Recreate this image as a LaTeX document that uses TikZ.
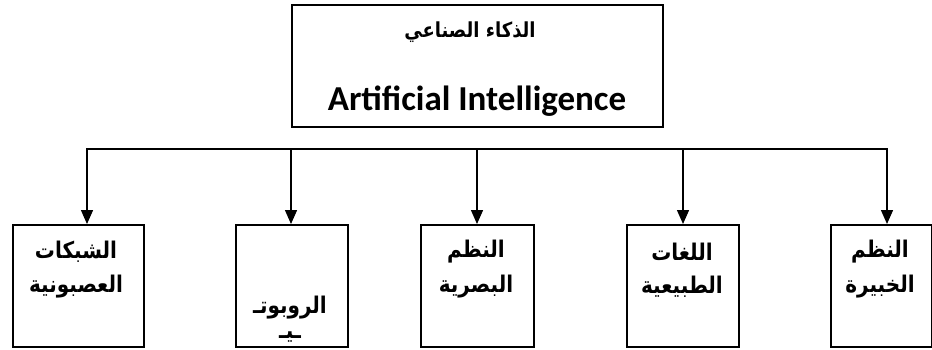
\documentclass[tikz,border=0pt]{standalone}
\usepackage{fontspec}
\setmainfont{Carlito}
\newfontfamily\arabicfont[Script=Arabic]{DejaVu Sans Bold}
\TeXXeTstate=1
\usetikzlibrary{arrows.meta}

\begin{document}
\begin{tikzpicture}[x=1pt,y=-1pt,
  box/.style={draw,line width=2pt,anchor=north west,inner sep=0pt},
  bus/.style={line width=1.4pt,line cap=rect},
  conn/.style={line width=1.4pt,-{Triangle[length=14pt,width=12pt]}},
  ar/.style={font=\arabicfont\fontsize{20}{20}\selectfont,inner sep=0pt,yscale=1.15},
  en/.style={font=\bfseries\fontsize{35}{35}\selectfont,inner sep=0pt,anchor=base},
]
\useasboundingbox[fill=white] (0,0) rectangle (932,349);

% root box
\node[box,minimum width=371pt,minimum height=122pt] (root) at (291,4) {};
\node[ar,font=\arabicfont\fontsize{18}{18}\selectfont] (rootar) at (470,32) {\beginR الذكاء الصناعي\endR};
\node[en] (rooten) at (477,110) {Artificial Intelligence};

% branch boxes
\node[box,minimum width=131pt,minimum height=122pt] (b1) at (12,224) {};
\node[box,minimum width=112pt,minimum height=122pt] (b2) at (235,224) {};
\node[box,minimum width=113pt,minimum height=122pt] (b3) at (420,224) {};
\node[box,minimum width=112pt,minimum height=122pt] (b4) at (626,224) {};
\node[box,minimum width=101pt,minimum height=122pt] (b5) at (830,224) {};

% branch labels
\node[ar] (b1a) at (76,252) {\beginR الشبكات\endR};
\node[ar] (b1b) at (76,287) {\beginR العصبونية\endR};
\node[ar] (b2a) at (290,308) {\beginR الروبوتـ\endR};
\node[ar] (b2b) at (290,337) {\beginR ـيـ\endR};
\node[ar] (b3a) at (476,252) {\beginR النظم\endR};
\node[ar] (b3b) at (476,287) {\beginR البصرية\endR};
\node[ar] (b4a) at (682,252) {\beginR اللغات\endR};
\node[ar] (b4b) at (682,287) {\beginR الطبيعية\endR};
\node[ar] (b5a) at (880,252) {\beginR النظم\endR};
\node[ar] (b5b) at (880,287) {\beginR الخبيرة\endR};

% distribution bus
\coordinate (c1) at (87,149);
\coordinate (c2) at (291,149);
\coordinate (c3) at (477,149);
\coordinate (c4) at (683,149);
\coordinate (c5) at (887,149);
\draw[bus] (c1) -- (c5);
\draw[conn] (c1) -- (c1 |- b1.north);
\draw[conn] (c2) -- (c2 |- b2.north);
\draw[conn] (c3) -- (c3 |- b3.north);
\draw[conn] (c4) -- (c4 |- b4.north);
\draw[conn] (c5) -- (c5 |- b5.north);
\end{tikzpicture}
\end{document}
